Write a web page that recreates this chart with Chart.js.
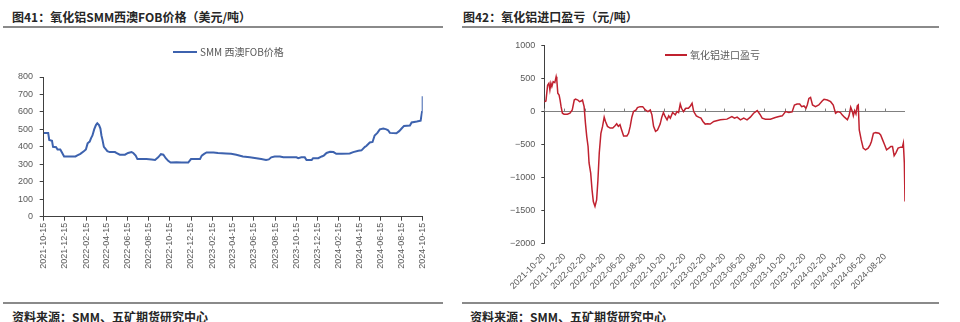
<!DOCTYPE html>
<html>
<head>
<meta charset="utf-8">
<script src="https://cdn.jsdelivr.net/npm/chart.js@4.4.0/dist/chart.umd.min.js"></script>
<style>
  body { margin: 0; width: 960px; height: 322px; background: #fff; overflow: hidden; position: relative; font-family: 'Noto Sans CJK SC', sans-serif; }
  .title, .source { position: absolute; font-size: 12px; font-weight: bold; color: #262626; line-height: 18px; white-space: nowrap; }
  .rule { position: absolute; height: 2px; background: #8a8a8a; }
  .box { position: absolute; top: 25px; height: 277px; }
</style>
</head>
<body>
<div class="title" style="left:12px;top:8px">图41：氧化铝SMM西澳FOB价格（美元/吨）</div>
<div class="title" style="left:463px;top:8px">图42：氧化铝进口盈亏（元/吨）</div>
<div class="rule" style="left:3px;top:26px;width:440px"></div>
<div class="rule" style="left:462px;top:26px;width:477px"></div>

<div class="box" style="left:0;width:450px"><canvas id="fobChart"></canvas></div>
<div class="box" style="left:470px;width:470px"><canvas id="spreadChart"></canvas></div>

<div class="rule" style="left:3px;top:302px;width:440px"></div>
<div class="rule" style="left:462px;top:302px;width:477px"></div>
<div class="source" style="left:12px;top:308px">资料来源：SMM、五矿期货研究中心</div>
<div class="source" style="left:470px;top:308px">资料来源：SMM、五矿期货研究中心</div>

<script>
'use strict';

// SMM west australia FOB alumina price, USD/t
const fobDates = [
  '2021-10-15','2021-10-28','2021-10-31','2021-11-08','2021-11-11','2021-11-20','2021-11-24','2021-12-02',
  '2021-12-06','2021-12-13','2022-01-15','2022-01-19','2022-01-29','2022-02-08','2022-02-14','2022-02-19',
  '2022-02-25','2022-03-01','2022-03-05','2022-03-10','2022-03-15','2022-03-19','2022-03-24','2022-03-28',
  '2022-03-31','2022-04-03','2022-04-07','2022-04-13','2022-04-17','2022-04-24','2022-05-09','2022-05-13',
  '2022-05-23','2022-06-07','2022-06-16','2022-06-26','2022-07-01','2022-07-08','2022-07-13','2022-08-08',
  '2022-08-23','2022-09-02','2022-09-11','2022-09-19','2022-09-26','2022-10-03','2022-10-10','2022-10-17',
  '2022-11-03','2022-11-18','2022-12-07','2022-12-15','2023-01-10','2023-01-15','2023-01-22','2023-01-29',
  '2023-02-18','2023-03-03','2023-03-26','2023-04-10','2023-04-25','2023-05-14','2023-06-03','2023-06-22',
  '2023-07-06','2023-07-20','2023-07-28','2023-08-04','2023-08-14','2023-08-29','2023-09-08','2023-10-16',
  '2023-10-21','2023-10-30','2023-11-09','2023-11-14','2023-11-29','2023-12-03','2023-12-18','2023-12-28',
  '2024-01-03','2024-01-11','2024-01-21','2024-01-31','2024-02-08','2024-02-24','2024-03-18','2024-03-28',
  '2024-04-12','2024-04-21','2024-05-01','2024-05-05','2024-05-15','2024-05-23','2024-05-29','2024-06-06',
  '2024-06-13','2024-06-23','2024-07-02','2024-07-07','2024-07-12','2024-07-31','2024-08-08','2024-08-15',
  '2024-08-22','2024-09-08','2024-09-13','2024-09-28','2024-10-09','2024-10-13','2024-10-15'
];
const fobValues = [
  480,480,440,435,400,398,385,385,
  370,345,345,350,360,375,385,420,
  430,450,465,500,525,535,525,505,
  465,440,400,385,375,370,370,365,
  355,355,365,370,365,350,330,330,
  328,325,340,358,355,335,320,310,
  312,310,310,330,330,350,360,368,
  368,365,362,360,355,345,340,335,
  330,325,328,340,345,345,340,340,
  335,340,340,325,325,335,335,345,
  350,365,372,370,360,360,362,370,
  378,380,400,405,425,428,465,480,
  500,505,500,495,480,478,490,505,
  520,522,540,545,550,600,690
];
const fobTicks = [
  '2021-10-15','2021-12-15','2022-02-15','2022-04-15','2022-06-15','2022-08-15','2022-10-15',
  '2022-12-15','2023-02-15','2023-04-15','2023-06-15','2023-08-15','2023-10-15','2023-12-15',
  '2024-02-15','2024-04-15','2024-06-15','2024-08-15','2024-10-15'
];

// alumina import profit / loss, CNY/t
const spreadDates = [
  '2021-10-20','2021-10-25','2021-10-30','2021-11-03','2021-11-06','2021-11-09','2021-11-12','2021-11-16',
  '2021-11-21','2021-11-25','2021-11-27','2021-11-30','2021-12-04','2021-12-07','2021-12-10','2021-12-14',
  '2021-12-19','2021-12-29','2022-01-06','2022-01-13','2022-01-19','2022-01-23','2022-01-30','2022-02-04',
  '2022-02-09','2022-02-13','2022-02-18','2022-02-22','2022-02-26','2022-03-02','2022-03-05','2022-03-10',
  '2022-03-14','2022-03-18','2022-03-23','2022-03-28','2022-04-01','2022-04-05','2022-04-10','2022-04-15',
  '2022-04-20','2022-04-24','2022-04-30','2022-05-08','2022-05-16','2022-05-23','2022-05-28','2022-06-02',
  '2022-06-07','2022-06-12','2022-06-18','2022-06-28','2022-07-03','2022-07-08','2022-07-13','2022-07-18',
  '2022-07-26','2022-07-30','2022-08-07','2022-08-15','2022-08-23','2022-08-31','2022-09-07','2022-09-12',
  '2022-09-17','2022-09-23','2022-09-29','2022-10-07','2022-10-12','2022-10-17','2022-10-22','2022-10-28',
  '2022-11-02','2022-11-07','2022-11-14','2022-11-22','2022-11-27','2022-12-02','2022-12-07','2022-12-11',
  '2022-12-17','2022-12-24','2023-01-01','2023-01-07','2023-01-12','2023-01-17','2023-01-25','2023-02-01',
  '2023-02-08','2023-02-14','2023-02-21','2023-02-28','2023-03-08','2023-03-19','2023-04-08','2023-04-28',
  '2023-05-13','2023-05-21','2023-05-29','2023-06-08','2023-06-18','2023-06-28','2023-07-08','2023-07-18',
  '2023-07-29','2023-08-06','2023-08-13','2023-08-23','2023-09-07','2023-09-22','2023-10-03','2023-10-13',
  '2023-10-23','2023-11-02','2023-11-12','2023-11-19','2023-11-27','2023-12-05','2023-12-11','2023-12-18',
  '2023-12-24','2023-12-28','2024-01-02','2024-01-07','2024-01-13','2024-01-22','2024-02-01','2024-02-12',
  '2024-02-17','2024-02-27','2024-03-08','2024-03-16','2024-03-23','2024-03-30','2024-04-07','2024-04-12',
  '2024-04-19','2024-04-28','2024-05-03','2024-05-08','2024-05-13','2024-05-16','2024-05-20','2024-05-24',
  '2024-05-28','2024-05-31','2024-06-03','2024-06-09','2024-06-15','2024-06-22','2024-06-30','2024-07-06',
  '2024-07-10','2024-07-16','2024-07-23','2024-08-02','2024-08-07','2024-08-13','2024-08-19','2024-08-25',
  '2024-09-01','2024-09-07','2024-09-12','2024-09-17','2024-09-22','2024-09-29','2024-10-07','2024-10-12',
  '2024-10-15','2024-10-18','2024-10-20'
];
const spreadValues = [
  150,160,400,430,330,430,380,455,
  440,530,480,280,250,175,75,-25,
  -40,-40,-25,25,175,190,175,150,
  160,175,75,-175,-380,-530,-780,-935,
  -1185,-1365,-1440,-1340,-1035,-630,-330,-225,
  -85,-150,-225,-250,-250,-215,-185,-225,
  -200,-280,-370,-370,-330,-225,-85,0,
  25,60,75,75,25,0,25,-50,
  -225,-300,-280,-190,-85,-15,-75,-125,
  -65,-100,-15,-50,0,-15,115,50,
  0,50,50,85,125,0,-65,-85,
  -100,-150,-190,-185,-190,-150,-125,-115,
  -75,-100,-85,-125,-100,-125,-85,-25,
  15,-40,-100,-115,-115,-90,-75,-65,
  0,-15,-5,100,115,115,75,85,
  50,100,200,215,100,75,100,165,
  185,175,150,100,-25,0,-15,-50,
  -85,-125,-65,65,0,-65,15,-35,
  85,100,-280,-430,-555,-580,-555,-505,
  -455,-330,-320,-330,-355,-430,-505,-580,
  -555,-530,-530,-670,-630,-555,-540,-540,
  -480,-780,-1365
];
const spreadTicks = [
  '2021-10-20','2021-12-20','2022-02-20','2022-04-20','2022-06-20','2022-08-20','2022-10-20',
  '2022-12-20','2023-02-20','2023-04-20','2023-06-20','2023-08-20','2023-10-20','2023-12-20',
  '2024-02-20','2024-04-20','2024-06-20','2024-08-20'
];
const spreadEnd = '2024-10-20';

function toDay(s) {
  const p = s.split('-');
  return Date.UTC(+p[0], +p[1] - 1, +p[2]) / 864e5;
}
function toPoints(dates, values) {
  return dates.map((d, i) => ({ x: toDay(d), y: values[i] }));
}

const tickFont = { family: "'Liberation Sans','Noto Sans CJK SC',sans-serif", size: 9 };
const axisColor = '#404040';
const labelColor = '#595959';

// legend drawn as a short line sample + label at a fixed spot
const lineLegend = {
  id: 'lineLegend',
  afterDraw(chart, args, opts) {
    const ds = chart.data.datasets[0];
    const ctx = chart.ctx;
    ctx.save();
    ctx.strokeStyle = ds.borderColor;
    ctx.lineWidth = 2;
    ctx.beginPath();
    ctx.moveTo(opts.x, opts.y);
    ctx.lineTo(opts.x + opts.len, opts.y);
    ctx.stroke();
    ctx.fillStyle = labelColor;
    ctx.font = "10px 'Noto Sans CJK SC', sans-serif";
    ctx.textBaseline = 'middle';
    ctx.fillText(ds.label, opts.x + opts.len + 3, opts.y);
    ctx.restore();
  }
};

// small tick marks sitting on the zero line
const zeroTicks = {
  id: 'zeroTicks',
  beforeDatasetsDraw(chart) {
    const xs = chart.scales.x, ys = chart.scales.y;
    if (!chart.options.plugins.zeroTicks) return;
    const y0 = ys.getPixelForValue(0);
    const ctx = chart.ctx;
    ctx.save();
    ctx.strokeStyle = '#808080';
    ctx.lineWidth = 1;
    xs.ticks.forEach(t => {
      const px = Math.round(xs.getPixelForValue(t.value)) + 0.5;
      ctx.beginPath();
      ctx.moveTo(px, y0 - 3);
      ctx.lineTo(px, y0);
      ctx.stroke();
    });
    ctx.restore();
  }
};

// left: FOB price
new Chart(document.getElementById('fobChart'), {
  type: 'line',
  data: {
    datasets: [{
      label: 'SMM 西澳FOB价格',
      data: toPoints(fobDates, fobValues),
      borderColor: '#3d62ae',
      borderWidth: 2,
      pointRadius: 0,
      tension: 0
    }]
  },
  options: {
    responsive: true,
    maintainAspectRatio: false,
    animation: false,
    layout: { padding: { top: 52, right: 27.3, left: 0, bottom: 0 } },
    plugins: {
      legend: { display: false },
      tooltip: { enabled: false },
      lineLegend: { x: 173, y: 27, len: 24 }
    },
    scales: {
      x: {
        type: 'linear',
        min: toDay(fobTicks[0]),
        max: toDay(fobTicks[fobTicks.length - 1]),
        afterBuildTicks: s => { s.ticks = fobTicks.map(d => ({ value: toDay(d) })); },
        afterFit: s => { s.height = 85.3; },
        border: { color: axisColor, width: 1 },
        grid: { drawOnChartArea: false, tickLength: 4, tickColor: axisColor },
        ticks: {
          autoSkip: false, minRotation: 90, maxRotation: 90, padding: 2,
          color: labelColor, font: tickFont,
          callback: (v, i) => fobTicks[i]
        }
      },
      y: {
        min: 0, max: 800,
        afterFit: s => { s.width = 43.7; },
        border: { color: axisColor, width: 1 },
        grid: { drawOnChartArea: false, tickLength: 4, tickColor: axisColor },
        ticks: { stepSize: 100, padding: 6.7, color: labelColor, font: tickFont }
      }
    }
  },
  plugins: [lineLegend]
});

// right: import profit / loss
new Chart(document.getElementById('spreadChart'), {
  type: 'line',
  data: {
    datasets: [{
      label: '氧化铝进口盈亏',
      data: toPoints(spreadDates, spreadValues),
      borderColor: '#c0212f',
      borderWidth: 1.5,
      pointRadius: 0,
      tension: 0
    }]
  },
  options: {
    responsive: true,
    maintainAspectRatio: false,
    animation: false,
    layout: { padding: { top: 20.7, right: 35, left: 0, bottom: 0 } },
    plugins: {
      legend: { display: false },
      tooltip: { enabled: false },
      lineLegend: { x: 195, y: 30, len: 22 },
      zeroTicks: true
    },
    scales: {
      x: {
        type: 'linear',
        min: toDay(spreadTicks[0]),
        max: toDay(spreadEnd),
        afterBuildTicks: s => { s.ticks = spreadTicks.map(d => ({ value: toDay(d) })); },
        afterFit: s => { s.height = 58.7; },
        border: { display: false },
        grid: { display: false, drawTicks: false },
        ticks: {
          autoSkip: false, minRotation: 45, maxRotation: 45, padding: 8,
          color: labelColor, font: tickFont,
          callback: (v, i) => spreadTicks[i]
        }
      },
      y: {
        min: -2000, max: 1000,
        afterFit: s => { s.width = 74.3; },
        border: { color: axisColor, width: 1 },
        grid: {
          drawOnChartArea: true, tickLength: 3, tickColor: axisColor,
          color: c => (c.tick && c.tick.value === 0) ? '#808080' : 'rgba(0,0,0,0)'
        },
        ticks: {
          stepSize: 500, padding: 6, color: labelColor, font: tickFont,
          callback: v => v < 0 ? '\u2212' + Math.abs(v) : String(v)
        }
      }
    }
  },
  plugins: [lineLegend, zeroTicks]
});
</script>
</body>
</html>
